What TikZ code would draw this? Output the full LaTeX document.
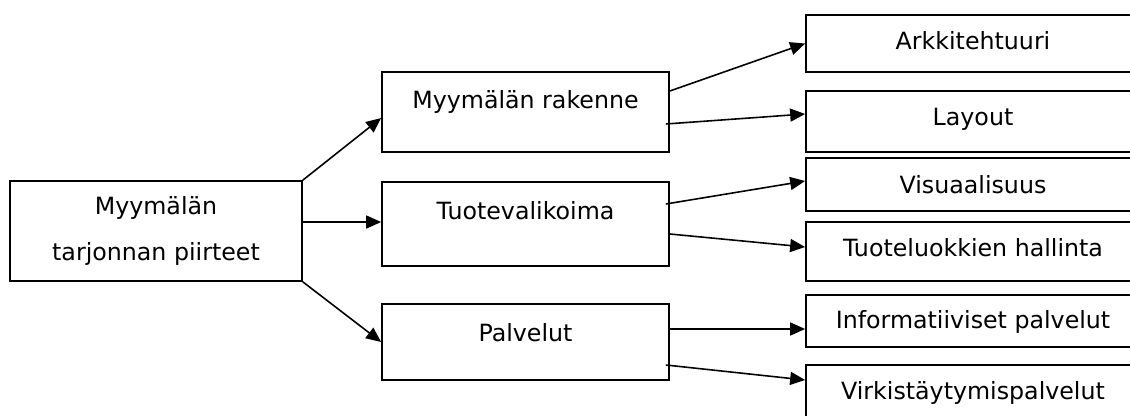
\documentclass[tikz,border=0pt]{standalone}
\usepackage{fontspec}
\setmainfont{DejaVu Sans}
\usetikzlibrary{arrows.meta,calc}

\begin{document}
\begin{tikzpicture}[
    x=0.02cm,y=-0.02cm,
    font=\fontsize{13.5}{16}\selectfont,
    box/.style={draw=black,line width=1pt,inner sep=0pt,align=center},
    mid/.style={box,minimum width=5.74cm},
    leaf/.style={box,minimum width=6.68cm,text height=0.68cm},
    arr/.style={-{Triangle[length=0.3cm,width=0.26cm]},line width=0.9pt}
  ]
    \clip (0,0) rectangle (1130,416);
    \node[box,minimum width=5.84cm,minimum height=2.0cm,
          font=\fontsize{13.5}{26.2}\selectfont] (root) at (156,231)
          {Myymälän\\tarjonnan piirteet};
    \node[mid,text height=0.72cm,text depth=0.88cm] (rak) at (525.5,112) {Myymälän rakenne};
    \node[mid,text height=0.74cm,text depth=0.94cm] (tuote) at (525.5,224) {Tuotevalikoima};
    \node[mid,text height=0.74cm,text depth=0.78cm] (palv) at (525.5,342) {Palvelut};
    % the right-hand boxes run past the page edge
    \node[leaf,text depth=0.46cm] (ark) at (973,43.5) {Arkkitehtuuri};
    \node[leaf,text depth=0.54cm] (lay) at (973,121.5) {Layout};
    \node[leaf,text height=0.70cm,text depth=0.36cm] (vis) at (973,184.5) {Visuaalisuus};
    \node[leaf,text depth=0.50cm] (tlk) at (973,251.5) {Tuoteluokkien hallinta};
    \node[leaf,text height=0.66cm,text depth=0.38cm] (info) at (973,321) {Informatiiviset palvelut};
    \node[leaf,text depth=0.52cm] (virk) at (973,395) {Virkistäytymispalvelut};
    \draw[arr] (root.north east) -- ($(rak.west)+(0,6)$);
    \draw[arr] ($(root.east)+(0,-9)$) -- ($(tuote.west)+(0,-2)$);
    \draw[arr] (root.south east) -- (palv.west);
    \draw[arr] ($(rak.east)+(0,-21)$) -- (ark.west);
    \draw[arr] ($(rak.east)+(-4,12)$) -- ($(lay.west)+(0,-7.5)$);
    \draw[arr] ($(tuote.east)+(-4,-20)$) -- ($(vis.west)+(0,-3.5)$);
    \draw[arr] ($(tuote.east)+(0,10)$) -- ($(tlk.west)+(0,-4.5)$);
    \draw[arr] ($(palv.east)+(0,-13)$) -- ($(info.west)+(0,8)$);
    \draw[arr] ($(palv.east)+(-4,23)$) -- ($(virk.west)+(0,-15)$);
  \end{tikzpicture}
\end{document}
